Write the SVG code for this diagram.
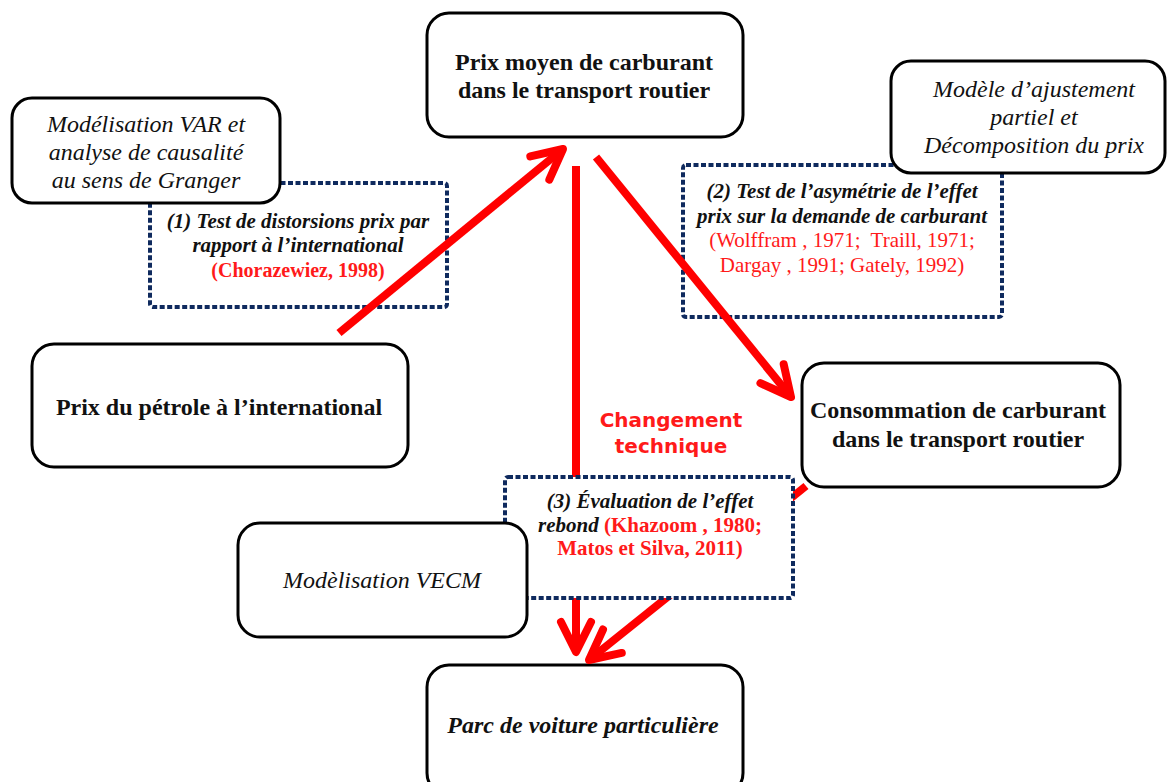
<svg xmlns="http://www.w3.org/2000/svg" width="1167" height="782" viewBox="0 0 1167 782">
<style>
.box{fill:#fff;stroke:#000;stroke-width:3}
.dash{stroke:#0f2a5e;stroke-width:4;stroke-dasharray:5 2.5}
.t{font-family:"Liberation Serif","Times New Roman",serif;fill:#111;text-anchor:middle}
.b{font-weight:bold}
.i{font-style:italic}
.red{fill:#ff1a1a}
.conn{stroke:#ff0000;stroke-width:8;fill:none}
.ct{font-family:"DejaVu Sans",Verdana,sans-serif;font-weight:bold;font-size:20px;fill:#ff1a1a;text-anchor:middle}
</style>
<defs>
<marker id="ah" markerUnits="userSpaceOnUse" orient="auto" refX="0" refY="0" markerWidth="60" markerHeight="60" overflow="visible">
<path d="M-30,-15 L0,0 L-30,15" fill="none" stroke="#ff0000" stroke-width="8" stroke-linecap="round" stroke-linejoin="round"/>
</marker>
</defs>

<g id="test1">
<rect x="150" y="183" width="297" height="124" rx="3" fill="none" class="dash"/>
<text class="t b i" font-size="21" x="298" y="228">(1) Test de distorsions prix par</text>
<text class="t b i" font-size="21" x="298" y="252">rapport à l’international</text>
<text class="t b red" font-size="20" x="298" y="277">(Chorazewiez, 1998)</text>
</g>

<g id="test2">
<rect x="683" y="165" width="319" height="152" rx="3" fill="none" class="dash"/>
<text class="t b i" font-size="21" x="842" y="198">(2) Test de l’asymétrie de l’effet</text>
<text class="t b i" font-size="21" x="842" y="223">prix sur la demande de carburant</text>
<text class="t red" font-size="21" x="842" y="247">(Wolffram , 1971;&#160; Traill, 1971;</text>
<text class="t red" font-size="21" x="842" y="272">Dargay , 1991; Gately, 1992)</text>
</g>

<g id="var">
<rect class="box" x="12" y="98" width="268" height="105" rx="20"/>
<text class="t i" font-size="24" x="146" y="132">Modélisation VAR et</text>
<text class="t i" font-size="24" x="146" y="160">analyse de causalité</text>
<text class="t i" font-size="24" x="146" y="188">au sens de Granger</text>
</g>

<g id="ajust">
<rect class="box" x="891" y="61" width="274" height="112" rx="20"/>
<text class="t i" font-size="24" x="1034" y="97">Modèle d’ajustement</text>
<text class="t i" font-size="24" x="1034" y="125">partiel et</text>
<text class="t i" font-size="24" x="1034" y="153">Décomposition du prix</text>
</g>

<g id="prixmoyen">
<rect class="box" x="427" y="13" width="316" height="124" rx="22"/>
<text class="t b" font-size="24" x="584" y="70">Prix moyen de carburant</text>
<text class="t b" font-size="24" x="584" y="98">dans le transport routier</text>
</g>

<g id="petrole">
<rect class="box" x="32" y="344" width="376" height="123" rx="22"/>
<text class="t b" font-size="24" x="219" y="415">Prix du pétrole à l’international</text>
</g>

<g id="conso">
<rect class="box" x="802" y="363" width="318" height="124" rx="22"/>
<text class="t b" font-size="24" x="958" y="418">Consommation de carburant</text>
<text class="t b" font-size="24" x="958" y="447">dans le transport routier</text>
</g>

<g id="parc">
<rect class="box" x="427" y="665" width="316" height="130" rx="22"/>
<text class="t b i" font-size="24" x="583" y="733">Parc de voiture particulière</text>
</g>

<g id="connectors">
<line class="conn" x1="339" y1="333" x2="563" y2="149" marker-end="url(#ah)"/>
<line class="conn" x1="596" y1="157" x2="791" y2="397" marker-end="url(#ah)"/>
<line class="conn" x1="576" y1="166" x2="576" y2="652" marker-end="url(#ah)"/>
<line class="conn" x1="806" y1="486" x2="589" y2="660" marker-end="url(#ah)"/>
</g>

<g id="changement">
<text class="ct" x="671" y="427">Changement</text>
<text class="ct" x="671" y="453">technique</text>
</g>

<g id="test3">
<rect x="505" y="477" width="288" height="121" rx="3" fill="#fff" class="dash"/>
<text class="t b i" font-size="21" x="650" y="508">(3) Évaluation de l’effet</text>
<text class="t b" font-size="21" x="650" y="532"><tspan class="i">rebond</tspan><tspan class="red"> (Khazoom , 1980;</tspan></text>
<text class="t b red" font-size="21" x="650" y="555">Matos et Silva, 2011)</text>
</g>

<g id="vecm">
<rect class="box" x="238" y="523" width="289" height="114" rx="22"/>
<text class="t i" font-size="24" x="382" y="588">Modèlisation VECM</text>
</g>
</svg>
